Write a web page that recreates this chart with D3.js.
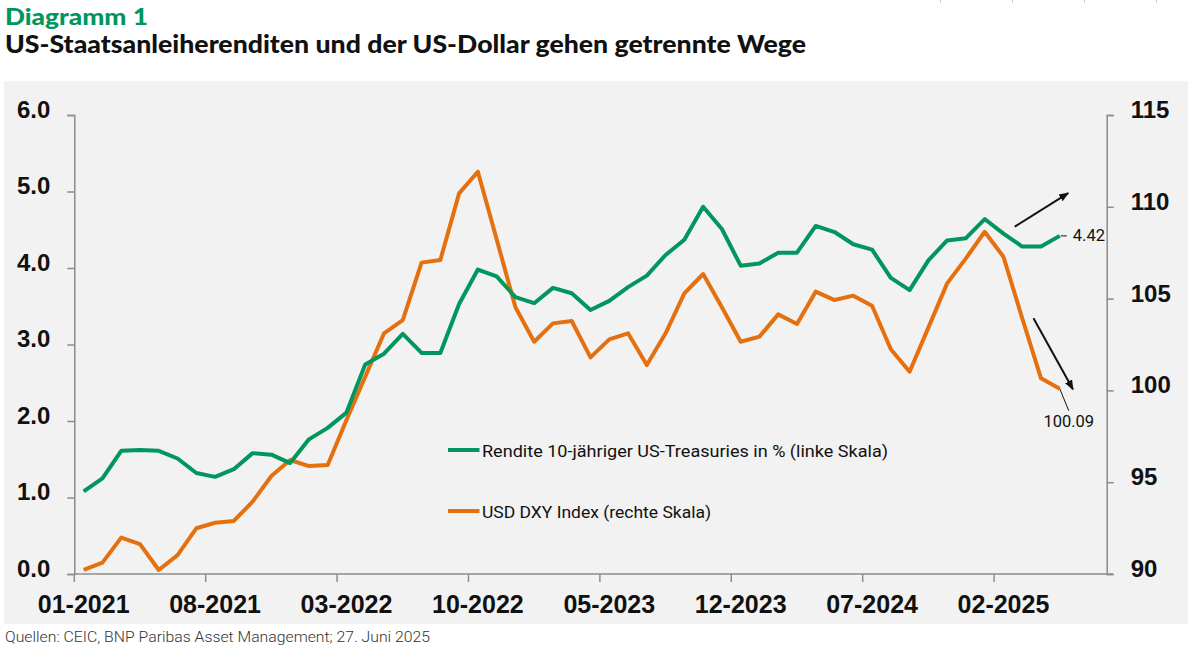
<!DOCTYPE html>
<html>
<head>
<meta charset="utf-8">
<script src="https://cdn.jsdelivr.net/npm/d3@7"></script>
<style>
  body { margin: 0; background: #fff; }
  svg { display: block; }
</style>
</head>
<body>
<svg id="chart" width="1188" height="649"></svg>
<script>
// months on the category axis (last two are empty slots)
const months = [
  "01-2021","02-2021","03-2021","04-2021","05-2021","06-2021","07-2021","08-2021","09-2021","10-2021","11-2021","12-2021",
  "01-2022","02-2022","03-2022","04-2022","05-2022","06-2022","07-2022","08-2022","09-2022","10-2022","11-2022","12-2022",
  "01-2023","02-2023","03-2023","04-2023","05-2023","06-2023","07-2023","08-2023","09-2023","10-2023","11-2023","12-2023",
  "01-2024","02-2024","03-2024","04-2024","05-2024","06-2024","07-2024","08-2024","09-2024","10-2024","11-2024","12-2024",
  "01-2025","02-2025","03-2025","04-2025","05-2025","06-2025","07-2025"
];
const tickMonths = ["01-2021","08-2021","03-2022","10-2022","05-2023","12-2023","07-2024","02-2025"];

// 10y US treasury yield in % (left scale)
const yields = [1.08,1.25,1.61,1.62,1.61,1.51,1.32,1.27,1.37,1.58,1.56,1.45,
  1.76,1.91,2.11,2.74,2.88,3.14,2.89,2.89,3.53,3.98,3.89,3.62,
  3.54,3.74,3.67,3.45,3.57,3.75,3.90,4.17,4.37,4.80,4.51,4.03,
  4.06,4.20,4.20,4.55,4.47,4.31,4.24,3.87,3.71,4.10,4.36,4.39,
  4.64,4.45,4.28,4.28,4.42];

// USD DXY index (right scale)
const dxy = [90.22,90.62,91.98,91.63,90.22,91.03,92.49,92.79,92.89,93.94,95.34,96.21,
  95.88,95.94,98.39,100.75,103.11,103.83,106.96,107.10,110.73,111.91,108.23,104.53,
  102.65,103.65,103.78,101.80,102.78,103.11,101.38,103.11,105.29,106.34,104.53,102.65,
  102.93,104.14,103.62,105.38,104.92,105.16,104.61,102.24,101.02,103.42,105.83,107.19,
  108.64,107.28,103.93,100.66,100.09];

const leftTicks = [0, 1, 2, 3, 4, 5, 6];
const rightTicks = [90, 95, 100, 105, 110, 115];
const seriesNames = ["Rendite 10-jähriger US-Treasuries in % (linke Skala)", "USD DXY Index (rechte Skala)"];

const GREEN = "#00965e", ORANGE = "#e5700f", AXIS = "#8c8c8c";
const svg = d3.select("#chart");

// background panel
svg.append("rect").attr("x", 4).attr("y", 81).attr("width", 1184).attr("height", 543).attr("fill", "#f2f2f2");

// little marks at the top edge
[940.5, 1012.5, 1084.5, 1156.5].forEach(x => {
    svg.append("line").attr("x1", x).attr("x2", x).attr("y1", 0).attr("y2", 3)
        .attr("stroke", "#d0d0d0").attr("stroke-width", 1);
});

// titles
svg.append("text").attr("x", 5).attr("y", 25).text("Diagramm 1")
    .attr("font-family", "Lato").attr("font-weight", 900).attr("font-size", 23)
    .attr("fill", GREEN).attr("textLength", 143).attr("lengthAdjust", "spacingAndGlyphs");
svg.append("text").attr("x", 5).attr("y", 53)
    .text("US-Staatsanleiherenditen und der US-Dollar gehen getrennte Wege")
    .attr("font-family", "Lato").attr("font-weight", 900).attr("font-size", 24)
    .attr("fill", "#111").attr("textLength", 801).attr("lengthAdjust", "spacingAndGlyphs");

svg.append("text").attr("x", 5).attr("y", 642)
    .text("Quellen: CEIC, BNP Paribas Asset Management; 27. Juni 2025")
    .attr("font-family", "Roboto").attr("font-weight", 300).attr("font-size", 15.5)
    .attr("fill", "#333").attr("textLength", 425).attr("lengthAdjust", "spacingAndGlyphs");

// scales
const x = d3.scaleBand().domain(months).range([74.3, 1106.7]).padding(0);
const xi = i => x(months[0]) + (i + 0.5) * x.step();   // position by index (for annotations)
const yL = d3.scaleLinear().domain([0, 6]).range([574, 115]);
const yR = d3.scaleLinear().domain([90, 115]).range([574, 115]);

const tickFont = g => g.selectAll("text")
    .attr("font-family", "Liberation Sans, Arial, sans-serif")
    .attr("font-weight", "bold").attr("fill", "#111");

// left axis
const gL = svg.append("g").attr("transform", "translate(74.3,0)")
    .call(d3.axisLeft(yL).tickValues(leftTicks).tickFormat(d3.format(".1f")).tickSize(7).tickPadding(17));
gL.call(tickFont).selectAll("text").attr("font-size", 24).attr("dy", "0.1em");

// right axis
const gR = svg.append("g").attr("transform", "translate(1106.7,0)")
    .call(d3.axisRight(yR).tickValues(rightTicks).tickSize(7).tickPadding(17));
gR.call(tickFont).selectAll("text").attr("font-size", 24).attr("dy", "0.1em");

// bottom axis: ticks at band boundaries, labels at band centres
const gB = svg.append("g").attr("transform", "translate(0,574)");
gB.append("line").attr("x1", 74.3).attr("x2", 1113).attr("y1", 0).attr("y2", 0);
gB.selectAll("line.tick").data(tickMonths).join("line").attr("class", "tick")
    .attr("x1", d => x(d)).attr("x2", d => x(d)).attr("y1", 0).attr("y2", 8);
gB.selectAll("text").data(tickMonths).join("text")
    .attr("x", d => x(d) + x.bandwidth() / 2).attr("y", 39)
    .attr("text-anchor", "middle").text(d => d)
    .attr("font-family", "Liberation Sans, Arial, sans-serif").attr("font-weight", "bold")
    .attr("font-size", 25).attr("fill", "#111");

[gL, gR].forEach(g => {
    g.select(".domain").attr("stroke", AXIS).attr("stroke-width", 1.5);
    g.selectAll(".tick line").attr("stroke", AXIS).attr("stroke-width", 1.5);
});
gB.selectAll("line").attr("stroke", AXIS).attr("stroke-width", 1.5);

// lines
const lineL = d3.line().x((d, i) => x(months[i]) + x.bandwidth() / 2).y(d => yL(d));
const lineR = d3.line().x((d, i) => x(months[i]) + x.bandwidth() / 2).y(d => yR(d));

svg.append("path").datum(dxy).attr("d", lineR)
    .attr("fill", "none").attr("stroke", ORANGE).attr("stroke-width", 4).attr("stroke-linejoin", "round");
svg.append("path").datum(yields).attr("d", lineL)
    .attr("fill", "none").attr("stroke", GREEN).attr("stroke-width", 4).attr("stroke-linejoin", "round");

// legend
const legend = svg.append("g");
[[GREEN, 450], [ORANGE, 511]].forEach(([c, ly], k) => {
    legend.append("line").attr("x1", 448).attr("x2", 479.5).attr("y1", ly).attr("y2", ly)
        .attr("stroke", c).attr("stroke-width", 4);
    legend.append("text").attr("x", 482).attr("y", ly + 2.7).text(seriesNames[k])
        .attr("font-family", "Roboto").attr("font-size", 16.5).attr("fill", "#111")
        .attr("dominant-baseline", "middle")
        .attr("textLength", k === 0 ? 406 : 229).attr("lengthAdjust", "spacingAndGlyphs");
});

// annotations
const defs = svg.append("defs");
defs.append("marker").attr("id", "arrow").attr("viewBox", "0 0 10 10")
    .attr("refX", 9).attr("refY", 5).attr("markerWidth", 5).attr("markerHeight", 5)
    .attr("orient", "auto").append("path").attr("d", "M0,1 L10,5 L0,9 Z").attr("fill", "#111");

const last = yields.length - 1;
svg.append("line")
    .attr("x1", xi(49.6)).attr("y1", yL(4.54)).attr("x2", xi(52.45)).attr("y2", yL(4.98))
    .attr("stroke", "#111").attr("stroke-width", 2).attr("marker-end", "url(#arrow)");
svg.append("line")
    .attr("x1", xi(50.6)).attr("y1", yR(103.93)).attr("x2", xi(52.7)).attr("y2", yR(100.06))
    .attr("stroke", "#111").attr("stroke-width", 2).attr("marker-end", "url(#arrow)");

// value labels for the last points
svg.append("line")
    .attr("x1", xi(last) + 1).attr("x2", xi(last) + 7).attr("y1", yL(yields[last])).attr("y2", yL(yields[last]))
    .attr("stroke", "#111").attr("stroke-width", 1);
svg.append("text").attr("x", xi(last) + 13).attr("y", yL(yields[last]) + 5.5)
    .text(d3.format(".2f")(yields[last]))
    .attr("font-family", "Roboto").attr("font-size", 16.5).attr("fill", "#111");

svg.append("line")
    .attr("x1", xi(last)).attr("y1", yR(dxy[last])).attr("x2", xi(last) + 9).attr("y2", yR(dxy[last]) + 22)
    .attr("stroke", "#111").attr("stroke-width", 1);
svg.append("text").attr("x", xi(last) + 9).attr("y", yR(dxy[last]) + 38)
    .attr("text-anchor", "middle").text(d3.format(".2f")(dxy[last]))
    .attr("font-family", "Roboto").attr("font-size", 16.5).attr("fill", "#111");
</script>
</body>
</html>
